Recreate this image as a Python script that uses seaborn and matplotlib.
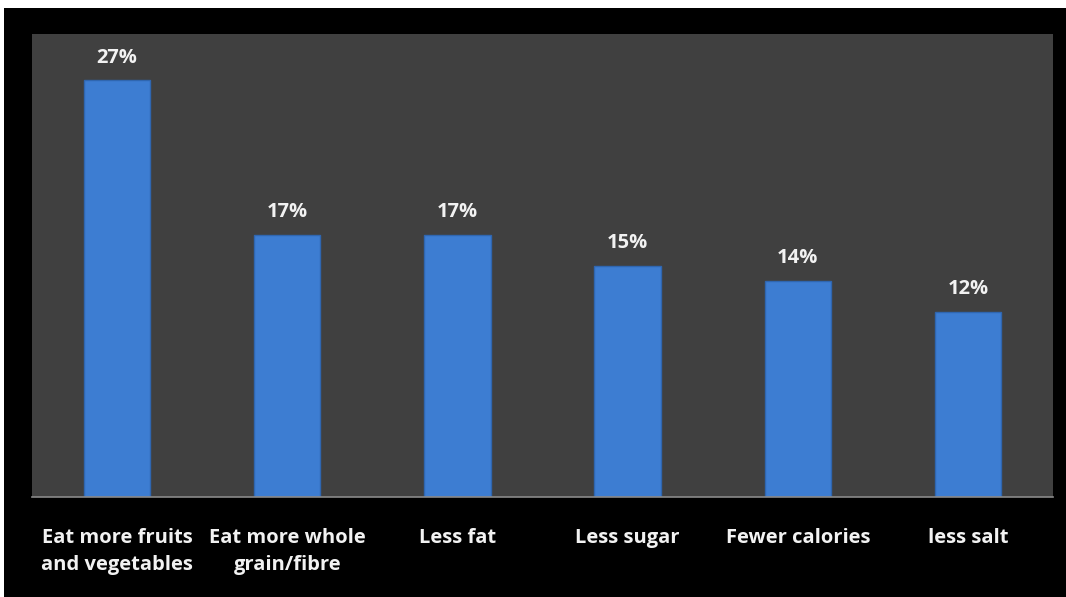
import matplotlib
matplotlib.use("Agg")
import matplotlib.pyplot as plt
import seaborn as sns
import pandas as pd
from matplotlib.patches import Rectangle

categories = ["Eat more fruits\nand vegetables", "Eat more whole\ngrain/fibre", "Less fat",
              "Less sugar", "Fewer calories", "less salt"]
values = [27, 17, 17, 15, 14, 12]

df = pd.DataFrame({"category": categories, "value": values})

sns.set_theme(style="dark")
plt.rcParams["font.family"] = ["Open Sans", "DejaVu Sans"]

fig = plt.figure(figsize=(10.66, 5.97), dpi=100, facecolor="white")
# black canvas with a thin white margin on top and left, as in the source image
fig.patches.append(Rectangle((4 / 1066, 0), 1, 1 - 8 / 597, transform=fig.transFigure,
                             facecolor="black", edgecolor="none", zorder=-10))
ax = fig.add_axes([32 / 1066, 1 - 497 / 597, (1053 - 32) / 1066, (497 - 34) / 597])
ax.set_facecolor("#404040")

sns.barplot(data=df, x="category", y="value", color="#3d7dd2", width=0.39,
            saturation=1, edgecolor="#2f66b0", linewidth=1.0, ax=ax)

for p, v in zip(ax.patches, values):
    ax.annotate(f"{v}%", (p.get_x() + p.get_width() / 2, p.get_height()),
                xytext=(0, 9), textcoords="offset points", ha="center", va="bottom",
                color="#f2f2f2", fontsize=14.5, fontweight="bold")

ax.set_ylim(0, 30)
ax.set_xlim(-0.5, len(categories) - 0.5)
ax.set_yticks([])
ax.set_xlabel("")
ax.set_ylabel("")
ax.tick_params(axis="x", length=0, pad=22, colors="#f2f2f2", labelsize=14.5)
for lbl in ax.get_xticklabels():
    lbl.set_fontweight("bold")
    lbl.set_multialignment("center")
    lbl.set_linespacing(1.5)
for side in ["top", "left", "right"]:
    ax.spines[side].set_visible(False)
ax.spines["bottom"].set_visible(True)
ax.spines["bottom"].set_color("#8a8a8a")
ax.spines["bottom"].set_linewidth(1.2)
ax.grid(False)

fig.savefig("out.png", dpi=100, facecolor=fig.get_facecolor())
